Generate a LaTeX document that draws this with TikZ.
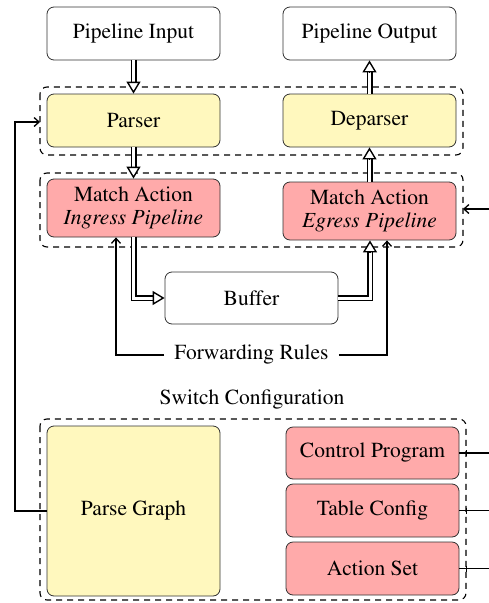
\documentclass[tikz,border=0pt]{standalone}
\usepackage[T1]{fontenc}
\usepackage{times}
\usetikzlibrary{arrows.meta}
\definecolor{boxyellow}{RGB}{255,248,190}
\definecolor{boxred}{RGB}{255,170,170}
\definecolor{boxline}{RGB}{50,50,50}
\begin{document}
\begin{tikzpicture}[x=1pt,y=-1pt,
  base/.style={draw=boxline,line width=0.8pt,rounded corners=7pt,minimum width=173pt,inner sep=0pt,align=center,font=\fontsize{21.5}{23.5}\selectfont},
  plainbox/.style={base,fill=white,minimum height=53pt},
  yelbox/.style={base,fill=boxyellow},
  redbox/.style={base,fill=boxred},
  grp/.style={draw=black,line width=1.1pt,rounded corners=7pt,dash pattern=on 6pt off 5pt},
  dbl/.style={double,double distance=3pt,line width=1.5pt,shorten >=10pt},
  tiponly/.style={line width=1.4pt,-{Triangle[open,fill=white,length=12pt,width=14pt]}},
  conn/.style={line width=1.3pt,-{Straight Barb[length=5pt,width=9pt]}},
  lbl/.style={font=\fontsize{21.5}{23.5}\selectfont,inner sep=2pt}
]
\useasboundingbox (0,0) rectangle (489,603);
% groups
\draw[grp] (40,87) rectangle (463,155);
\draw[grp] (40,173) rectangle (463,247);
\draw[grp] (40,419) rectangle (466,600);
% nodes
\node[plainbox] (pin) at (133.5,33.5) {Pipeline Input};
\node[plainbox] (pout) at (369.5,33.5) {Pipeline Output};
\node[yelbox,minimum height=53pt] (parser) at (133.5,120.5) {Parser};
\node[yelbox,minimum height=53pt] (deparser) at (369.5,120.5) {Deparser};
\node[redbox,minimum height=58pt] (ingress) at (133.5,208) {Match Action\\\textit{Ingress Pipeline}};
\node[redbox,minimum height=58pt] (egress) at (369.5,211) {Match Action\\\textit{Egress Pipeline}};
\node[plainbox,minimum height=52pt] (buffer) at (251.5,298) {Buffer};
\node[lbl,inner xsep=10pt] (fwd) at (251.5,355) {Forwarding Rules};
\node[lbl] (swc) at (252,400) {Switch Configuration};
\node[yelbox,minimum height=170pt] (pgraph) at (133.5,511) {Parse Graph};
\node[redbox,minimum height=52pt] (cprog) at (372.5,453) {Control Program};
\node[redbox,minimum height=53pt] (tconf) at (372.5,510.5) {Table Config};
\node[redbox,minimum height=53pt] (aset) at (372.5,568.5) {Action Set};
% coordinates
\coordinate (g1w) at (40,122);
\coordinate (g2e) at (463,209);
\coordinate (rin) at (489,209);
\coordinate (egin) at ([xshift=0.5pt]egress.south);
% double arrows (line, then head)
\draw[dbl] (pin) -- (parser);
\draw[tiponly] ([yshift=12pt]parser.north) -- (parser.north);
\draw[dbl] (parser) -- (ingress);
\draw[tiponly] ([yshift=12pt]ingress.north) -- (ingress.north);
\draw[dbl] (deparser) -- (pout);
\draw[tiponly] ([yshift=-12pt]pout.south) -- (pout.south);
\draw[dbl] (egress) -- (deparser);
\draw[tiponly] ([yshift=-12pt]deparser.south) -- (deparser.south);
\draw[dbl] (ingress.south) |- (buffer.west);
\draw[tiponly] ([xshift=-12pt]buffer.west) -- (buffer.west);
\draw[dbl] (buffer.east) -| (egin);
\draw[tiponly] ([yshift=-12pt]egin) -- (egin);
% forwarding rules
\draw[conn] (fwd.west) -| ([xshift=-17.5pt]ingress.south);
\draw[conn] (fwd.east) -| ([xshift=17.5pt]egress.south);
% right input
\draw[conn] (rin) -- (g2e);
% loop to parser group
\draw[conn] (pgraph.west) -| (15,122) -- (g1w);
% config lines
\foreach \n in {cprog,tconf,aset}{
  \draw[line width=1.3pt] (\n.east) -- (\n.east -| rin);
  \draw[line width=0.8pt] ([yshift=-3pt]\n.east -| g2e) ++(3pt,0) -- ++(0,6pt);
}
\end{tikzpicture}
\end{document}
